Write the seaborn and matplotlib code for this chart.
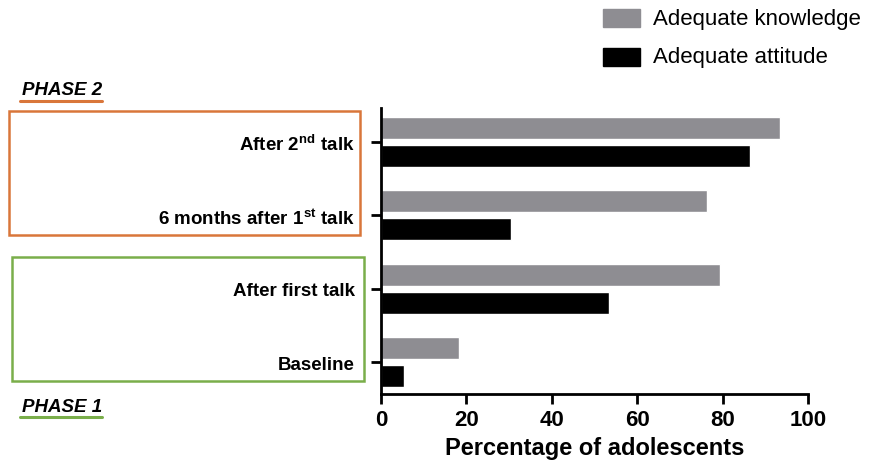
import pandas as pd
import seaborn as sns
import matplotlib.pyplot as plt
from matplotlib.patches import Rectangle
from matplotlib.lines import Line2D

# values (% of adolescents)
stages = ["After 2nd talk", "6 months after 1st talk", "After first talk", "Baseline"]
stage_labels = [r"After 2$^{\mathbf{nd}}$ talk ", r"6 months after 1$^{\mathbf{st}}$ talk",
                "After first talk", "Baseline"]
knowledge = [93.4, 76.4, 79.4, 18.3]
attitude = [86.4, 30.4, 53.4, 5.4]
series = ["Adequate knowledge", "Adequate attitude"]

df = pd.DataFrame({
    "Stage": stages * 2,
    "Pct": knowledge + attitude,
    "Group": [series[0]] * 4 + [series[1]] * 4,
})

sns.set_style("ticks", {"text.color": "black", "axes.labelcolor": "black",
                        "xtick.color": "black", "ytick.color": "black",
                        "axes.edgecolor": "black"})
plt.rcParams["font.family"] = ["Liberation Sans", "DejaVu Sans"]
plt.rcParams["mathtext.fontset"] = "custom"
plt.rcParams["mathtext.rm"] = "Liberation Sans"
plt.rcParams["mathtext.bf"] = "Liberation Sans:bold"

W, H = 880, 464
fig = plt.figure(figsize=(W / 100, H / 100), dpi=100)
ax = fig.add_axes([381 / W, 1 - 395 / H, (808 - 381) / W, (395 - 109) / H])

sns.barplot(data=df, y="Stage", x="Pct", hue="Group", order=stages, hue_order=series,
            palette=["#8e8d92", "#000000"], orient="h", width=0.76, gap=0.21,
            saturation=1, ax=ax, legend=False)

ax.set_xlim(0, 100)
ax.set_ylim(3.435, -0.46)
ax.set_xticks(range(0, 101, 20))
ax.set_yticks(range(4))
ax.set_yticklabels(stage_labels, fontsize=13.5, fontweight="bold")
ax.tick_params(axis="x", labelsize=16, width=2, length=7, pad=4)
ax.tick_params(axis="y", width=2, length=7, pad=12)
for t in ax.get_xticklabels():
    t.set_fontweight("bold")
ax.set_xlabel("Percentage of adolescents", fontsize=17, fontweight="bold", labelpad=4)
ax.set_ylabel("")
sns.despine(ax=ax)
for s in ["left", "bottom"]:
    ax.spines[s].set_linewidth(2)

# legend drawn as squares + text
legend_rows = [(series[0], "#8e8d92", 19), (series[1], "#000000", 58)]
for name, col, yc in legend_rows:
    fig.add_artist(Rectangle((603 / W, 1 - (yc + 9) / H), 37 / W, 18 / H,
                             transform=fig.transFigure, color=col))
    fig.text(653 / W, 1 - yc / H, name, fontsize=16, va="center", ha="left")

# phase boxes
orange = "#d9763a"
green = "#7aae4a"
fig.add_artist(Rectangle((9 / W, 1 - 236 / H), 351 / W, 124 / H, transform=fig.transFigure,
                         fill=False, edgecolor=orange, linewidth=1.8))
fig.add_artist(Rectangle((12 / W, 1 - 382 / H), 352 / W, 124 / H, transform=fig.transFigure,
                         fill=False, edgecolor=green, linewidth=1.8))
fig.text(22 / W, 1 - 91 / H, "PHASE 2", fontsize=13.5, fontweight="bold", style="italic",
         va="center", ha="left")
fig.add_artist(Line2D([20 / W, 102 / W], [1 - 102 / H] * 2, transform=fig.transFigure,
                      color=orange, linewidth=2.2))
fig.text(22 / W, 1 - 408 / H, "PHASE 1", fontsize=13.5, fontweight="bold", style="italic",
         va="center", ha="left")
fig.add_artist(Line2D([20 / W, 102 / W], [1 - 418 / H] * 2, transform=fig.transFigure,
                      color=green, linewidth=2.2))

fig.savefig("out.png", dpi=100)
